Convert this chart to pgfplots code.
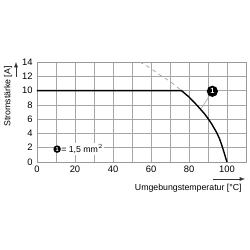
\documentclass[border=0pt]{standalone}
\usepackage{pgfplots}
\pgfplotsset{compat=1.18}
\usepackage{fontspec}
\setmainfont{Liberation Sans}
\begin{document}
\begin{tikzpicture}[x=0.8pt,y=0.8pt]
\useasboundingbox (-37,-88) rectangle (213,162);
\begin{axis}[
  at={(0,0)}, anchor=origin,
  scale only axis, width=167.2pt, height=80pt,
  xmin=0, xmax=110, ymin=0, ymax=14,
  xtick={0,20,...,100}, ytick={0,2,...,14},
  minor xtick={10,30,...,110},
  grid=both,
  grid style={gray!70, line width=0.5pt},
  minor grid style={gray!70, line width=0.5pt},
  axis line style={gray!80, line width=0.6pt},
  tick style={draw=none},
  ticklabel style={font=\fontsize{7.5}{8}\selectfont},
  /pgf/number format/assume math mode=true,
  clip=false,
]
\addplot[gray!70, dashed, line width=0.6pt] coordinates {(54,14) (60,13.1) (64,12.3) (70,11.3) (76,10)};
\addplot[black, line width=1.1pt] coordinates {(0,10) (76,10) (80,9.1) (84,8.0) (88,6.8) (90,6.1) (92,5.3) (94.6,4.1) (96,3.3) (97.2,2.4) (98.5,1.3) (99.5,0.4) (100,0)};
\draw[gray!70, line width=0.5pt] (axis cs:86.5,7.5) -- (axis cs:92.3,9.9);
\node[circle, fill=black, text=white, inner sep=0pt, minimum size=9pt, font=\fontsize{6}{6}\bfseries\selectfont] at (axis cs:92.3,9.9) {1};
\node[fill=white, inner sep=1pt, anchor=west, font=\fontsize{7}{8}\selectfont] at (axis cs:12,1.8) {= 1,5 mm$^2$};
\node[circle, fill=black, text=white, inner sep=0pt, minimum size=6pt, font=\fontsize{4.5}{5}\bfseries\selectfont] at (axis cs:10.6,1.8) {1};
\end{axis}
\node[rotate=90, anchor=east, font=\fontsize{7}{8}\selectfont] at (-29,100) {Stromstärke [A]};
\draw[-latex, black!80, line width=0.5pt] (-21,85) -- (-21,100);
\node[anchor=east, font=\fontsize{7}{8}\selectfont] at (209,-26) {Umgebungstemperatur [°C]};
\draw[-latex, black!80, line width=0.5pt] (176,-17) -- (208,-17);
\end{tikzpicture}
\end{document}
